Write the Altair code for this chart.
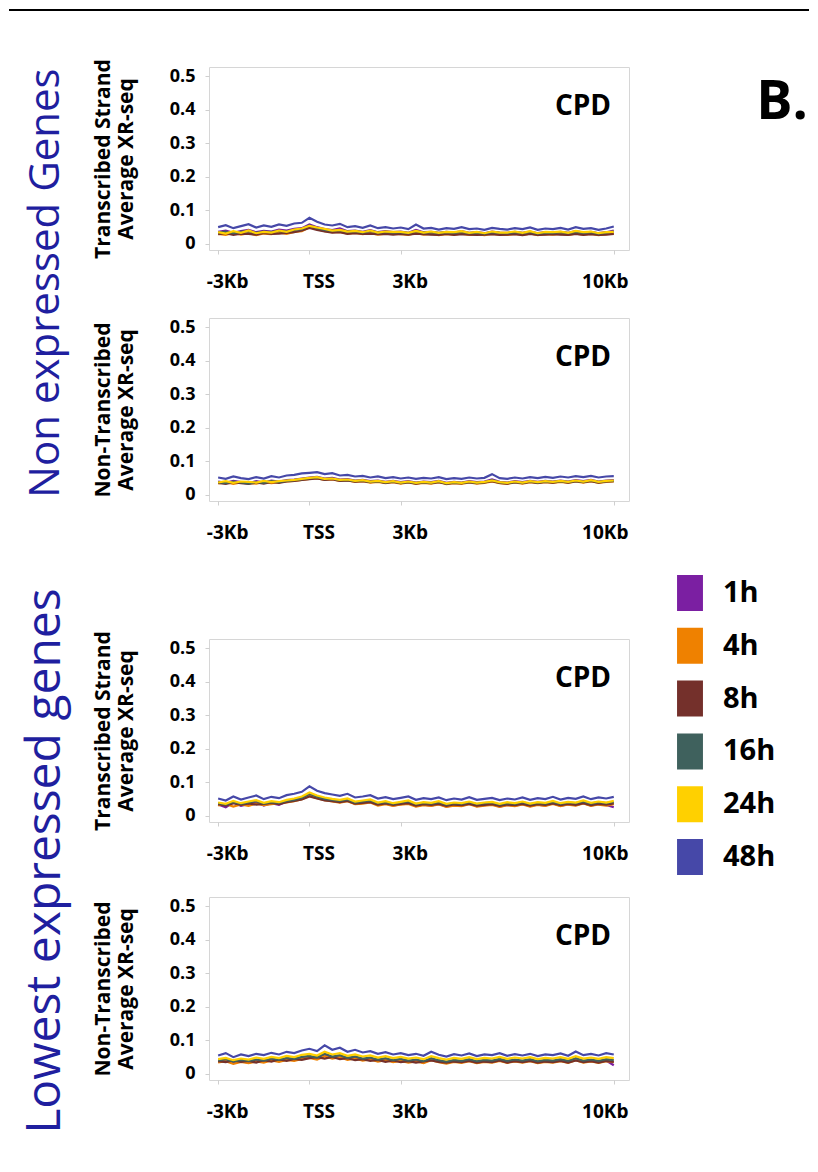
import altair as alt
import pandas as pd

# ---------------- data ----------------
X_KB = [-3.0, -2.75, -2.5, -2.25, -2.0, -1.75, -1.5, -1.25, -1.0, -0.75, -0.5, -0.25, 0.0,
        0.25, 0.5, 0.75, 1.0, 1.25, 1.5, 1.75, 2.0, 2.25, 2.5, 2.75, 3.0, 3.25,
        3.5, 3.75, 4.0, 4.25, 4.5, 4.75, 5.0, 5.25, 5.5, 5.75, 6.0, 6.25, 6.5,
        6.75, 7.0, 7.25, 7.5, 7.75, 8.0, 8.25, 8.5, 8.75, 9.0, 9.25, 9.5, 9.75, 10.0]

SERIES = ["1h", "4h", "8h", "16h", "24h", "48h"]
COLORS = ["#7B1FA2", "#EF8100", "#74302B", "#3F615D", "#FFD000", "#4648A8"]

X_TICKS = [-3, 0, 3, 10]
X_TICK_LABELS = ["-3Kb", "TSS", "3Kb", "10Kb"]
Y_TICKS = [0, 0.1, 0.2, 0.3, 0.4, 0.5]

# Panel 1: Non expressed genes, transcribed strand
P1_1H = [.036, .040, .033, .038, .042, .035, .039, .037, .043, .040, .045, .047, .058,
         .050, .044, .041, .046, .038, .040, .036, .041, .035, .038, .035, .037, .033,
         .042, .035, .036, .033, .036, .034, .038, .033, .035, .032, .037, .034, .033,
         .036, .033, .037, .032, .035, .034, .036, .033, .038, .034, .036, .032, .035, .040]
P1_4H = [.030, .027, .033, .028, .032, .026, .031, .029, .034, .030, .036, .038, .050,
         .044, .038, .035, .036, .031, .033, .029, .032, .028, .031, .030, .029, .027,
         .033, .028, .030, .026, .029, .028, .031, .027, .029, .026, .030, .028, .027,
         .030, .027, .031, .026, .029, .028, .030, .027, .031, .028, .030, .026, .029, .031]
P1_8H = [.029, .032, .027, .031, .030, .028, .033, .030, .031, .033, .035, .040, .048,
         .042, .037, .034, .035, .030, .032, .030, .031, .029, .030, .028, .030, .028,
         .031, .029, .028, .027, .030, .027, .029, .028, .027, .028, .029, .027, .028,
         .029, .026, .030, .027, .028, .029, .028, .027, .030, .027, .029, .027, .028, .030]
P1_16H = [.034, .037, .032, .036, .038, .033, .037, .035, .039, .037, .042, .044, .055,
          .047, .042, .039, .041, .036, .038, .034, .039, .034, .036, .034, .035, .032,
          .038, .034, .035, .032, .035, .033, .036, .032, .034, .031, .035, .033, .032,
          .035, .032, .036, .031, .034, .033, .035, .032, .036, .033, .035, .031, .034, .037]
P1_24H = [.035, .031, .038, .033, .040, .032, .036, .034, .040, .036, .043, .046, .054,
          .049, .045, .040, .042, .037, .039, .035, .040, .034, .037, .036, .036, .033,
          .039, .034, .037, .033, .036, .035, .038, .033, .036, .032, .037, .034, .034,
          .037, .033, .038, .032, .036, .035, .037, .033, .039, .035, .037, .032, .035, .036]
P1_48H = [.050, .056, .047, .053, .059, .049, .055, .051, .058, .054, .061, .063, .078,
          .066, .058, .055, .060, .050, .053, .048, .055, .047, .050, .046, .049, .044,
          .058, .046, .048, .043, .047, .045, .050, .044, .046, .042, .048, .045, .043,
          .047, .044, .049, .042, .046, .044, .048, .043, .050, .045, .047, .042, .046, .052]

# Panel 2: Non expressed genes, non-transcribed strand
P2_1H = [.040, .036, .042, .038, .035, .041, .037, .043, .040, .044, .046, .049, .052,
         .054, .049, .051, .046, .047, .043, .045, .041, .043, .039, .042, .038, .041,
         .037, .040, .038, .042, .036, .039, .037, .041, .038, .040, .046, .039, .037,
         .041, .038, .042, .039, .042, .040, .043, .040, .044, .041, .045, .040, .043, .044]
P2_4H = [.034, .038, .033, .037, .036, .034, .039, .035, .038, .040, .042, .045, .048,
         .050, .045, .046, .042, .043, .039, .041, .037, .039, .035, .038, .034, .037,
         .033, .036, .034, .038, .032, .035, .033, .037, .034, .036, .040, .035, .033,
         .037, .034, .038, .035, .038, .036, .039, .036, .040, .037, .041, .036, .039, .040]
P2_8H = [.036, .033, .038, .035, .033, .037, .034, .039, .036, .040, .042, .045, .047,
         .049, .045, .047, .042, .043, .040, .041, .038, .040, .036, .039, .035, .038,
         .034, .037, .035, .038, .034, .036, .035, .038, .035, .037, .041, .036, .034,
         .038, .035, .039, .036, .039, .037, .040, .037, .041, .038, .041, .037, .040, .041]
P2_16H = [.038, .035, .040, .037, .034, .039, .036, .041, .038, .042, .044, .047, .050,
          .052, .047, .049, .044, .045, .041, .043, .039, .041, .037, .040, .036, .039,
          .035, .038, .036, .040, .034, .037, .035, .039, .036, .038, .044, .037, .035,
          .039, .036, .040, .037, .040, .038, .041, .038, .042, .039, .043, .038, .041, .042]
P2_24H = [.037, .041, .036, .040, .039, .037, .042, .038, .041, .043, .045, .048, .051,
          .053, .048, .049, .045, .046, .042, .044, .040, .042, .038, .041, .037, .040,
          .036, .039, .037, .041, .035, .038, .036, .040, .037, .039, .043, .038, .036,
          .040, .037, .041, .038, .041, .039, .042, .039, .043, .040, .044, .039, .042, .043]
P2_48H = [.052, .048, .055, .050, .047, .053, .049, .056, .052, .058, .060, .064, .066,
          .068, .062, .065, .058, .060, .055, .057, .052, .055, .050, .053, .049, .052,
          .048, .051, .049, .053, .047, .050, .048, .052, .049, .051, .062, .050, .048,
          .052, .049, .053, .050, .054, .051, .055, .052, .056, .053, .057, .052, .055, .056]

# Panel 3: Lowest expressed genes, transcribed strand
P3_1H = [.034, .026, .040, .030, .036, .042, .031, .038, .033, .043, .046, .052, .064,
         .055, .049, .045, .041, .047, .036, .039, .043, .033, .037, .031, .035, .039,
         .029, .034, .031, .036, .028, .033, .030, .037, .029, .032, .035, .028, .033,
         .030, .036, .029, .034, .031, .038, .030, .035, .032, .039, .031, .036, .033, .026]
P3_4H = [.031, .036, .028, .034, .030, .037, .032, .035, .038, .040, .044, .050, .060,
         .053, .047, .043, .040, .044, .035, .037, .040, .031, .035, .030, .034, .036,
         .028, .032, .030, .034, .027, .031, .029, .035, .028, .031, .033, .027, .032,
         .029, .034, .028, .033, .030, .036, .029, .034, .031, .037, .030, .034, .031, .035]
P3_8H = [.035, .031, .038, .033, .037, .034, .036, .039, .035, .041, .045, .049, .058,
         .052, .046, .044, .041, .045, .037, .039, .041, .034, .037, .033, .036, .038,
         .031, .035, .033, .036, .030, .034, .032, .036, .031, .033, .035, .030, .034,
         .032, .036, .031, .035, .033, .037, .032, .036, .033, .038, .032, .036, .034, .037]
P3_16H = [.038, .034, .042, .036, .040, .044, .037, .041, .039, .045, .048, .054, .066,
          .057, .051, .048, .045, .049, .040, .043, .046, .038, .041, .036, .040, .043,
          .035, .039, .037, .041, .034, .038, .036, .041, .035, .038, .040, .034, .038,
          .036, .041, .035, .039, .037, .042, .036, .040, .038, .043, .037, .041, .038, .042]
P3_24H = [.040, .036, .045, .038, .043, .047, .039, .044, .041, .048, .052, .058, .070,
          .061, .055, .051, .048, .052, .043, .046, .049, .040, .044, .038, .042, .046,
          .037, .041, .039, .044, .036, .040, .038, .043, .037, .040, .042, .036, .041,
          .038, .043, .037, .041, .039, .045, .038, .042, .040, .046, .039, .043, .040, .045]
P3_48H = [.052, .046, .058, .049, .055, .061, .050, .057, .053, .062, .066, .072, .088,
          .075, .068, .064, .060, .066, .055, .058, .062, .052, .056, .050, .054, .058,
          .048, .053, .050, .055, .047, .052, .049, .056, .048, .051, .054, .047, .052,
          .049, .055, .048, .053, .050, .057, .049, .054, .051, .058, .050, .055, .052, .057]

# Panel 4: Lowest expressed genes, non-transcribed strand
P4_1H = [.036, .041, .032, .038, .034, .040, .036, .042, .038, .044, .041, .047, .050,
         .045, .056, .048, .052, .044, .048, .042, .045, .039, .043, .037, .041, .036,
         .039, .034, .043, .037, .033, .038, .035, .040, .034, .038, .036, .041, .035,
         .039, .036, .040, .034, .038, .036, .040, .035, .043, .036, .039, .035, .040, .026]
P4_4H = [.034, .038, .030, .036, .032, .037, .034, .040, .036, .042, .039, .045, .048,
         .043, .053, .046, .050, .042, .046, .040, .043, .037, .041, .035, .039, .034,
         .037, .032, .041, .035, .031, .036, .033, .038, .032, .036, .034, .039, .033,
         .037, .034, .038, .032, .036, .034, .038, .033, .041, .034, .037, .033, .038, .035]
P4_8H = [.038, .035, .040, .036, .039, .034, .041, .037, .043, .039, .045, .042, .047,
         .050, .046, .051, .044, .047, .041, .044, .039, .042, .036, .040, .035, .038,
         .034, .037, .040, .036, .034, .037, .035, .039, .034, .037, .035, .040, .034,
         .038, .035, .039, .034, .037, .035, .039, .034, .040, .035, .038, .034, .039, .036]
P4_16H = [.040, .044, .037, .042, .039, .043, .040, .046, .042, .048, .045, .051, .054,
          .049, .060, .052, .056, .048, .052, .046, .049, .043, .047, .041, .045, .040,
          .043, .038, .047, .041, .037, .042, .039, .044, .038, .042, .040, .045, .039,
          .043, .040, .044, .038, .042, .040, .044, .039, .047, .040, .043, .039, .044, .041]
P4_24H = [.044, .048, .041, .046, .043, .049, .045, .051, .047, .054, .050, .057, .060,
          .055, .066, .058, .062, .054, .058, .052, .055, .049, .053, .047, .051, .046,
          .049, .044, .053, .047, .043, .048, .045, .050, .044, .048, .046, .051, .045,
          .049, .046, .050, .044, .048, .046, .050, .045, .053, .046, .049, .045, .050, .047]
P4_48H = [.055, .062, .050, .058, .053, .060, .056, .063, .058, .066, .062, .070, .075,
          .068, .085, .072, .078, .066, .072, .064, .068, .060, .065, .058, .062, .056,
          .060, .054, .066, .057, .052, .059, .055, .061, .053, .058, .056, .062, .054,
          .059, .055, .060, .053, .058, .056, .061, .054, .067, .056, .060, .055, .062, .058]

# ---------------- styling ----------------
FONT = "Open Sans"
BLUE = "#1f1f9f"
W, H = 420, 183
X_DOMAIN = [-3.3, 10.5]
Y_DOMAIN = [-0.018, 0.527]
NOSTROKE = alt.ViewBackground(stroke="transparent")


def make_df(series_lists):
    rows = []
    for name, vals in zip(SERIES, series_lists):
        assert len(vals) == len(X_KB), (name, len(vals))
        for x, v in zip(X_KB, vals):
            rows.append({"x": x, "value": v, "series": name})
    return pd.DataFrame(rows)


label_expr = " : ".join(
    f"datum.value == {v} ? '{t}'" for v, t in zip(X_TICKS[:-1], X_TICK_LABELS[:-1])
) + f" : '{X_TICK_LABELS[-1]}'"

ONE = pd.DataFrame({"k": [0]})
LEGEND_DF = pd.DataFrame({"series": SERIES})

color_scale = alt.Scale(domain=SERIES, range=COLORS)


def panel(df, title_lines, extras):
    lines = alt.Chart(df).mark_line(strokeWidth=2.2).encode(
        x=alt.X("x:Q",
                scale=alt.Scale(domain=X_DOMAIN, nice=False, zero=False),
                axis=alt.Axis(values=X_TICKS, labelExpr=label_expr, title=None,
                              grid=False, domain=False, tickColor="#cfcfcf", tickSize=4,
                              labelFont=FONT, labelFontWeight="bold", labelFontSize=19,
                              labelColor="black", labelPadding=18, labelFlush=False,
                              labelOverlap=False,
                              labelOffset={"condition": {"test": "datum.value == 10", "value": -9},
                                           "value": 9})),
        y=alt.Y("value:Q",
                scale=alt.Scale(domain=Y_DOMAIN, nice=False, zero=False),
                axis=alt.Axis(values=Y_TICKS, format=".1~f", title=title_lines,
                              grid=False, domain=False, tickColor="#cfcfcf", tickSize=4,
                              labelFont=FONT, labelFontWeight="bold", labelFontSize=18,
                              labelColor="black", labelPadding=10,
                              titleFont=FONT, titleFontWeight="bold", titleFontSize=21,
                              titleColor="black", titleLineHeight=23, titlePadding=33)),
        color=alt.Color("series:N", scale=color_scale, legend=None),
    )
    cpd = alt.Chart(ONE).mark_text(text="CPD", font=FONT, fontWeight="bold", fontSize=28,
                                   color="black", align="center", baseline="middle").encode(
        x=alt.value(374), y=alt.value(40))
    return alt.layer(lines, cpd, *extras).properties(width=W, height=H)


def spacer(h):
    return alt.Chart(ONE).mark_text(text="").encode(
        x=alt.value(0), y=alt.value(0)).properties(width=W, height=h, view=NOSTROKE)


top_band = alt.Chart(ONE).mark_rect(color="black").encode(
    x=alt.value(-200), x2=alt.value(600), y=alt.value(-58), y2=alt.value(-56))
label_b = alt.Chart(ONE).mark_text(text="B.", font=FONT, fontWeight="bold", fontSize=54,
                                   color="black", align="center", baseline="middle").encode(
    x=alt.value(573), y=alt.value(36))
label_ne = alt.Chart(ONE).mark_text(text="Non expressed Genes", font=FONT, fontSize=42,
                                    color=BLUE, angle=270, align="center",
                                    baseline="middle").encode(
    x=alt.value(-163), y=alt.value(216))
label_le = alt.Chart(ONE).mark_text(text="Lowest expressed genes", font=FONT, fontSize=48,
                                    color=BLUE, angle=270, align="center",
                                    baseline="middle").encode(
    x=alt.value(-163), y=alt.value(222))

# legend built from the colour scale (sits in the gap between the two groups)
leg_y = alt.Y("series:N", sort=SERIES,
              scale=alt.Scale(type="point", domain=SERIES, range=[92, 356], padding=0),
              axis=None)
leg_sym = alt.Chart(LEGEND_DF).mark_point(
    shape="M-0.72,-1H0.72V1H-0.72Z", filled=True, size=1296, opacity=1, strokeWidth=0
).encode(x=alt.value(481), y=leg_y,
         color=alt.Color("series:N", scale=color_scale, legend=None))
leg_txt = alt.Chart(LEGEND_DF).mark_text(
    font=FONT, fontWeight="bold", fontSize=29, color="black", align="left", baseline="middle"
).encode(x=alt.value(514), y=leg_y, text="series:N")
legend_cell = alt.layer(leg_sym, leg_txt).properties(width=W, height=138, view=NOSTROKE)

TS = ["Transcribed Strand", "Average XR-seq"]
NTS = ["Non-Transcribed", "Average XR-seq"]

p1 = panel(make_df([P1_1H, P1_4H, P1_8H, P1_16H, P1_24H, P1_48H]), TS,
           [top_band, label_b, label_ne])
p2 = panel(make_df([P2_1H, P2_4H, P2_8H, P2_16H, P2_24H, P2_48H]), NTS, [])
p3 = panel(make_df([P3_1H, P3_4H, P3_8H, P3_16H, P3_24H, P3_48H]), TS, [label_le])
p4 = panel(make_df([P4_1H, P4_4H, P4_8H, P4_16H, P4_24H, P4_48H]), NTS, [])

chart = alt.vconcat(
    p1, spacer(68), p2, legend_cell, p3, spacer(75), p4,
    spacing=0, bounds="flush",
).properties(padding=0).configure_view(stroke="#d6d6d6", strokeWidth=1)

chart.save("out.html", embed_options={"renderer": "svg", "actions": False})
